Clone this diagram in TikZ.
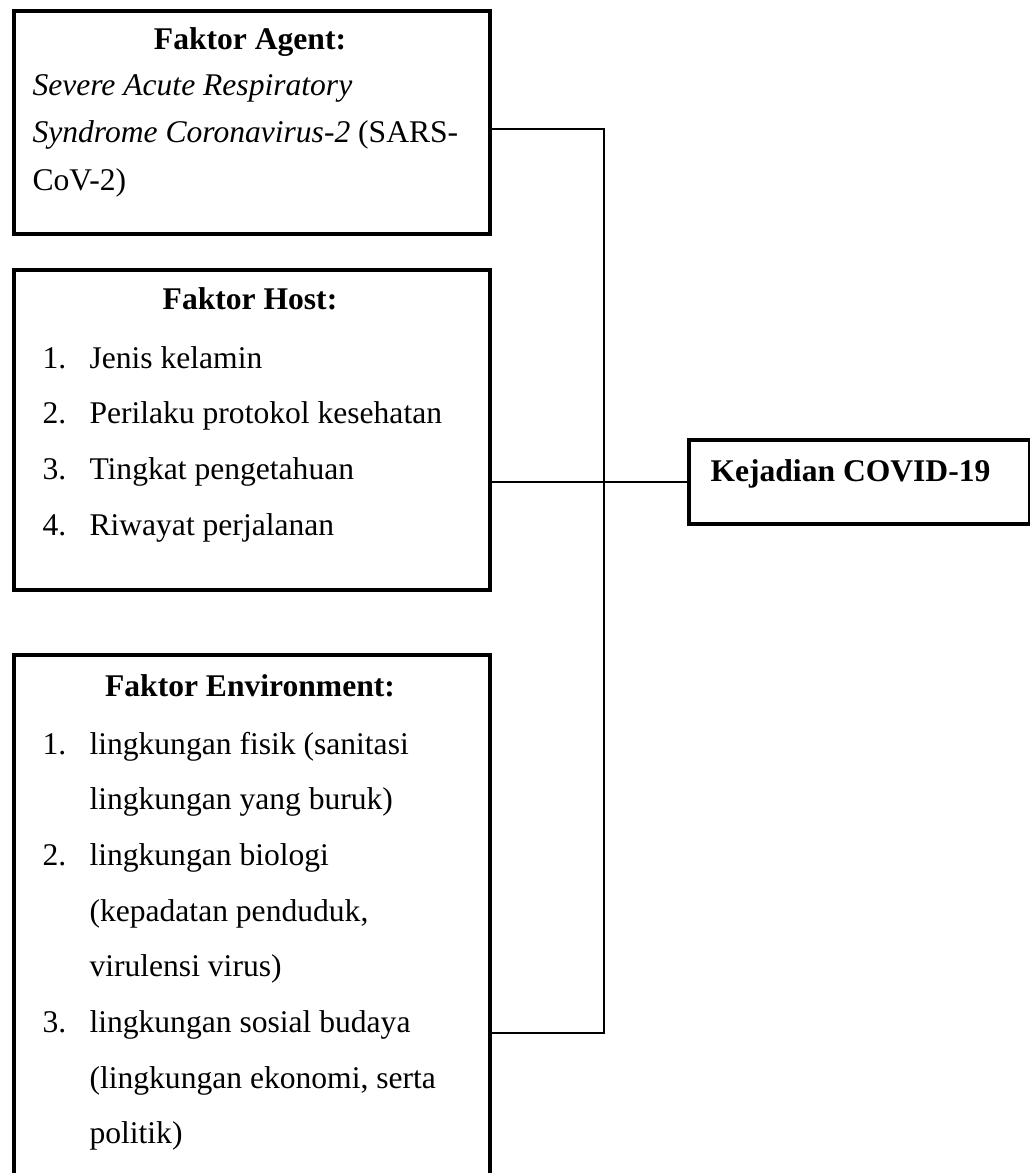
\documentclass[tikz,border=0pt]{standalone}
\usepackage{fontspec}
\setmainfont{Liberation Serif}
\begin{document}
\begin{tikzpicture}[
		x=0.38pt, y=-0.38pt,
		font=\fontsize{12}{14}\selectfont,
		box/.style={draw, line width=1.6pt, inner sep=0pt, anchor=north west},
		txt/.style={anchor=base west, inner sep=0pt},
		head/.style={anchor=base, inner sep=0pt, font=\fontsize{12}{14}\selectfont\bfseries},
		conn/.style={line width=0.8pt}
	]
	\useasboundingbox (0,0) rectangle (1030,1173);
	\clip (0,0) rectangle (1030,1173);
	% boxes
	\node[box, minimum width=180.9pt, minimum height=84.7pt] (agent) at (12,9) {};
	\node[box, minimum width=180.9pt, minimum height=121.6pt] (host) at (12,268) {};
	\node[box, minimum width=180.9pt, minimum height=230.7pt] (env) at (12,653) {};
	\node[box, minimum width=129.6pt, minimum height=31.9pt] (kejadian) at (687,438) {};
	% agent
	\node[head] (agenttitle) at (250,50) {Faktor Agent:};
	\node[txt] (agent1) at (32,95) {\textit{Severe Acute Respiratory}};
	\node[txt] (agent2) at (32,142) {\textit{Syndrome Coronavirus-2} (SARS-};
	\node[txt] (agent3) at (32,190) {CoV-2)};
	% host
	\node[head] (hosttitle) at (250,309) {Faktor Host:};
	\foreach \no/\lbl [count=\i from 0] in {1./Jenis kelamin, 2./Perilaku protokol kesehatan,
			3./Tingkat pengetahuan, 4./Riwayat perjalanan} {
		\node[txt] (hostno\i) at (42,368+55.7*\i) {\no};
		\node[txt] (host\i) at (89,368+55.7*\i) {\lbl};
	}
	% environment
	\node[head] (envtitle) at (250,696) {Faktor Environment:};
	\foreach \no/\lbl [count=\i from 0] in {1./{lingkungan fisik (sanitasi}, {}/{lingkungan yang buruk)},
			2./{lingkungan biologi}, {}/{(kepadatan penduduk,}, {}/{virulensi virus)},
			3./{lingkungan sosial budaya}, {}/{(lingkungan ekonomi, serta}, {}/{politik)}} {
		\node[txt] (envno\i) at (42,754+55.7*\i) {\no};
		\node[txt] (env\i) at (89,754+55.7*\i) {\lbl};
	}
	% outcome
	\node[txt, font=\fontsize{12}{14}\selectfont\bfseries] (kejadiantext) at (710,481) {Kejadian COVID-19};
	% connectors
	\coordinate (bustop) at (604,129);
	\coordinate (busbot) at (604,1033);
	\draw[conn] (agent.east |- bustop) -- (bustop) -- (busbot) -- (env.east |- busbot);
	\draw[conn] (host.east |- kejadian.west) -- (kejadian.west);
\end{tikzpicture}
\end{document}
